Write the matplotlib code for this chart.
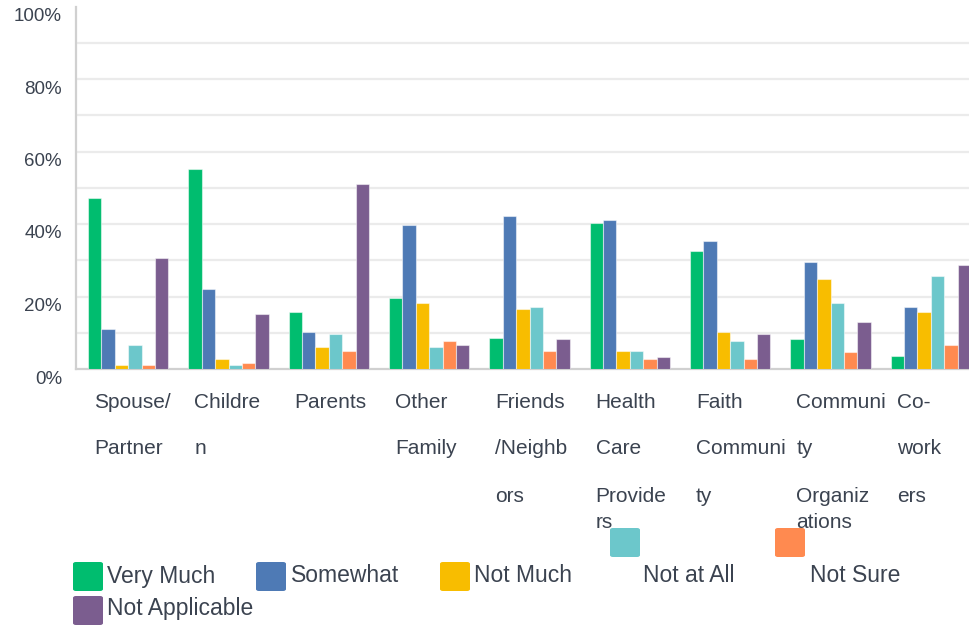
import numpy as np
import matplotlib
matplotlib.use("Agg")
import matplotlib.pyplot as plt
from matplotlib.patches import FancyBboxPatch
from matplotlib.transforms import ScaledTranslation

plt.rcParams['font.family'] = ['Liberation Sans', 'DejaVu Sans']

# categories as wrapped in the original
categories = ["Spouse/Partner", "Children", "Parents", "Other Family",
              "Friends/Neighbors", "Health Care Providers", "Faith Community",
              "Community Organizations", "Co-workers"]
label_lines = [
    ["Spouse/", "Partner"],
    ["Childre", "n"],
    ["Parents"],
    ["Other", "Family"],
    ["Friends", "/Neighb", "ors"],
    ["Health", "Care", "Provide", "rs"],
    ["Faith", "Communi", "ty"],
    ["Communi", "ty", "Organiz", "ations"],
    ["Co-", "work", "ers"],
]

series = ["Very Much", "Somewhat", "Not Much", "Not at All", "Not Sure", "Not Applicable"]
very_much = [47.1, 55.1, 15.7, 19.6, 8.5, 40.2, 32.5, 8.2, 3.7]
somewhat = [11.0, 22.0, 10.2, 39.6, 42.1, 41.0, 35.2, 29.6, 17.1]
not_much = [1.1, 2.8, 6.1, 18.2, 16.6, 5.1, 10.2, 24.7, 15.7]
not_at_all = [6.6, 1.1, 9.6, 6.1, 17.1, 5.1, 7.6, 18.2, 25.6]
not_sure = [1.1, 1.7, 5.1, 7.6, 5.1, 2.7, 2.7, 4.7, 6.6]
not_applicable = [30.7, 15.2, 51.1, 6.6, 8.2, 3.2, 9.6, 13.1, 28.7]
values = [very_much, somewhat, not_much, not_at_all, not_sure, not_applicable]

colors = ["#00BD6F", "#4E7AB5", "#F8BD00", "#6CC7CB", "#FF8A50", "#7B5D8F"]
text_color = "#3b4350"

W, H = 969, 629
fig = plt.figure(figsize=(W / 100, H / 100), dpi=100)


def fx(px):
    return px / W


def fy(py):
    return 1 - py / H


ax = fig.add_axes([fx(76), fy(369), fx(969) - fx(76), fy(6.5) - fy(369)])

x = np.arange(len(categories))
bw = 0.8 / len(series)
for i, (vals, c) in enumerate(zip(values, colors)):
    ax.bar(x - 0.4 + bw * (i + 0.5), vals, width=bw, color=c,
           edgecolor=(1, 1, 1, 0.5), linewidth=0.8, zorder=3)

ax.set_xlim(-0.52, 8.38)
ax.set_ylim(0, 100)

for g in range(10, 100, 10):
    ax.axhline(g, color="#ebebeb", lw=1.6, zorder=1)

ax.set_yticks(range(0, 101, 20))
ax.set_yticklabels([f"{v}%" for v in range(0, 101, 20)])
ax.tick_params(axis="y", length=0, pad=10, labelsize=13.5, labelcolor=text_color)
for lab in ax.get_yticklabels():
    lab.set_transform(lab.get_transform() + ScaledTranslation(0, -0.08, fig.dpi_scale_trans))
ax.set_xticks([])

for s in ["top", "right"]:
    ax.spines[s].set_visible(False)
for s in ["left", "bottom"]:
    ax.spines[s].set_color("#d0d0d0")
    ax.spines[s].set_linewidth(1.6)

# category labels, wrapped like the original
line_y = [402, 449, 497, 522]
for i, lines in enumerate(label_lines):
    for j, t in enumerate(lines):
        xd = ax.transData.transform((i - 0.4, 0))[0] + 6
        fig.text(fx(xd), fy(line_y[j]), t, fontsize=15, color=text_color,
                 ha="left", va="center")

# legend, drawn by hand to keep the odd placement of two swatches
legend_items = [
    (73, 562, 107, 576),
    (256, 562, 291, 576),
    (440, 562, 474, 576),
    (610, 528, 643, 576),
    (775, 528, 810, 576),
    (73, 596, 107, 609),
]
for (sx, sy, tx, ty), name, c in zip(legend_items, series, colors):
    fig.patches.append(FancyBboxPatch((fx(sx), fy(sy + 29)), fx(30), 29 / H,
                                      boxstyle="round,pad=0,rounding_size=0.003",
                                      transform=fig.transFigure, facecolor=c,
                                      edgecolor="none"))
    fig.text(fx(tx), fy(ty), name, fontsize=16.5, color=text_color,
             ha="left", va="center")

fig.savefig("out.png", dpi=100)
